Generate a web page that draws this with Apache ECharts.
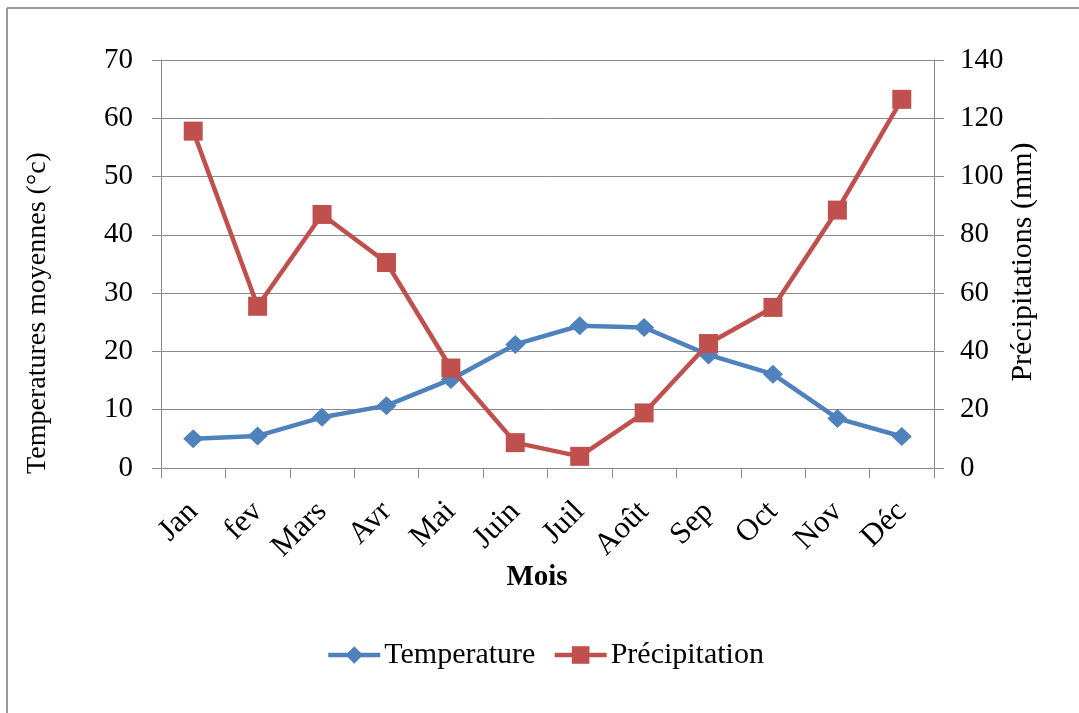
<!DOCTYPE html>
<html>
<head>
<meta charset="utf-8">
<script src="https://cdn.jsdelivr.net/npm/echarts@6/dist/echarts.min.js"></script>
<style>
  html, body { margin: 0; padding: 0; background: #ffffff; }
  #chart { width: 1079px; height: 713px; }
</style>
</head>
<body>
<div id="chart"></div>
<script>
// Monthly climate data: mean temperature (°C) and precipitation (mm)
const months = ['Jan', 'fev', 'Mars', 'Avr', 'Mai', 'Juin', 'Juil', 'Août', 'Sep', 'Oct', 'Nov', 'Déc'];
const temperature = [5.0, 5.5, 8.7, 10.7, 15.2, 21.2, 24.4, 24.1, 19.4, 16.1, 8.5, 5.4];
const precipitation = [115.6, 55.5, 87.0, 70.5, 34.3, 8.7, 4.0, 18.9, 42.7, 55.1, 88.5, 126.5];
const seriesNames = ['Temperature', 'Précipitation'];
const leftTicks = { min: 0, max: 70, interval: 10 };
const rightTicks = { min: 0, max: 140, interval: 20 };

const FONT = "'Liberation Serif', 'Times New Roman', serif";
const BLUE = '#4F81BD';
const RED = '#C0504D';
const GRID = '#8a8a8a';

const chart = echarts.init(document.getElementById('chart'), null, { renderer: 'canvas' });

chart.setOption({
  backgroundColor: '#ffffff',
  animation: false,
  textStyle: { fontFamily: FONT, color: '#000' },
  grid: { left: 161, right: 145, top: 60, bottom: 245, containLabel: false },
  legend: {
    data: seriesNames,
    left: 326,
    top: 640,
    padding: 0,
    itemGap: 17,
    itemWidth: 52,
    itemHeight: 22,
    lineStyle: { width: 4.5 },
    textStyle: { fontFamily: FONT, fontSize: 30, color: '#000', padding: [0, 0, 0, -1] }
  },
  xAxis: {
    type: 'category',
    data: months,
    boundaryGap: true,
    axisLine: { show: true, lineStyle: { color: GRID, width: 1 } },
    axisTick: { show: true, inside: false, length: 10, interval: 0, alignWithLabel: false, lineStyle: { color: GRID } },
    axisLabel: { interval: 0, rotate: 45, margin: 39, fontFamily: FONT, fontSize: 31, color: '#000' },
    splitLine: { show: false }
  },
  yAxis: [
    {
      type: 'value',
      min: leftTicks.min,
      max: leftTicks.max,
      interval: leftTicks.interval,
      axisLine: { show: true, lineStyle: { color: GRID, width: 1 } },
      axisTick: { show: true, inside: false, length: 9, lineStyle: { color: GRID } },
      axisLabel: { margin: 28, fontFamily: FONT, fontSize: 29, color: '#000' },
      splitLine: { show: true, lineStyle: { color: GRID, width: 1 } }
    },
    {
      type: 'value',
      position: 'right',
      min: rightTicks.min,
      max: rightTicks.max,
      interval: rightTicks.interval,
      axisLine: { show: true, lineStyle: { color: GRID, width: 1 } },
      axisTick: { show: true, inside: false, length: 10, lineStyle: { color: GRID } },
      axisLabel: { margin: 26, fontFamily: FONT, fontSize: 29, color: '#000' },
      splitLine: { show: false }
    }
  ],
  series: [
    {
      name: seriesNames[0],
      type: 'line',
      yAxisIndex: 0,
      data: temperature,
      symbol: 'diamond',
      symbolSize: [20, 19],
      itemStyle: { color: BLUE },
      lineStyle: { color: BLUE, width: 4.5 },
      z: 2
    },
    {
      name: seriesNames[1],
      type: 'line',
      yAxisIndex: 1,
      data: precipitation,
      symbol: 'rect',
      symbolSize: 19,
      itemStyle: { color: RED },
      lineStyle: { color: RED, width: 4.5 },
      z: 3
    }
  ],
  graphic: [
    // outer frame (left and top edges)
    { type: 'line', shape: { x1: 7, y1: 8, x2: 7, y2: 713 }, style: { stroke: '#9a9a9a', lineWidth: 2 } },
    { type: 'line', shape: { x1: 7, y1: 8, x2: 1079, y2: 8 }, style: { stroke: '#9a9a9a', lineWidth: 2 } },
    {
      type: 'text', x: 38, y: 313, rotation: Math.PI / 2,
      style: { text: 'Temperatures moyennes (°c)', font: '28px ' + FONT, fill: '#000', textAlign: 'center', textVerticalAlign: 'middle' }
    },
    {
      type: 'text', x: 1023, y: 262, rotation: Math.PI / 2,
      style: { text: 'Précipitations (mm)', font: '30px ' + FONT, fill: '#000', textAlign: 'center', textVerticalAlign: 'middle' }
    },
    {
      type: 'text', x: 537, y: 578,
      style: { text: 'Mois', font: 'bold 29px ' + FONT, fill: '#000', textAlign: 'center', textVerticalAlign: 'middle' }
    }
  ]
});
</script>
</body>
</html>
